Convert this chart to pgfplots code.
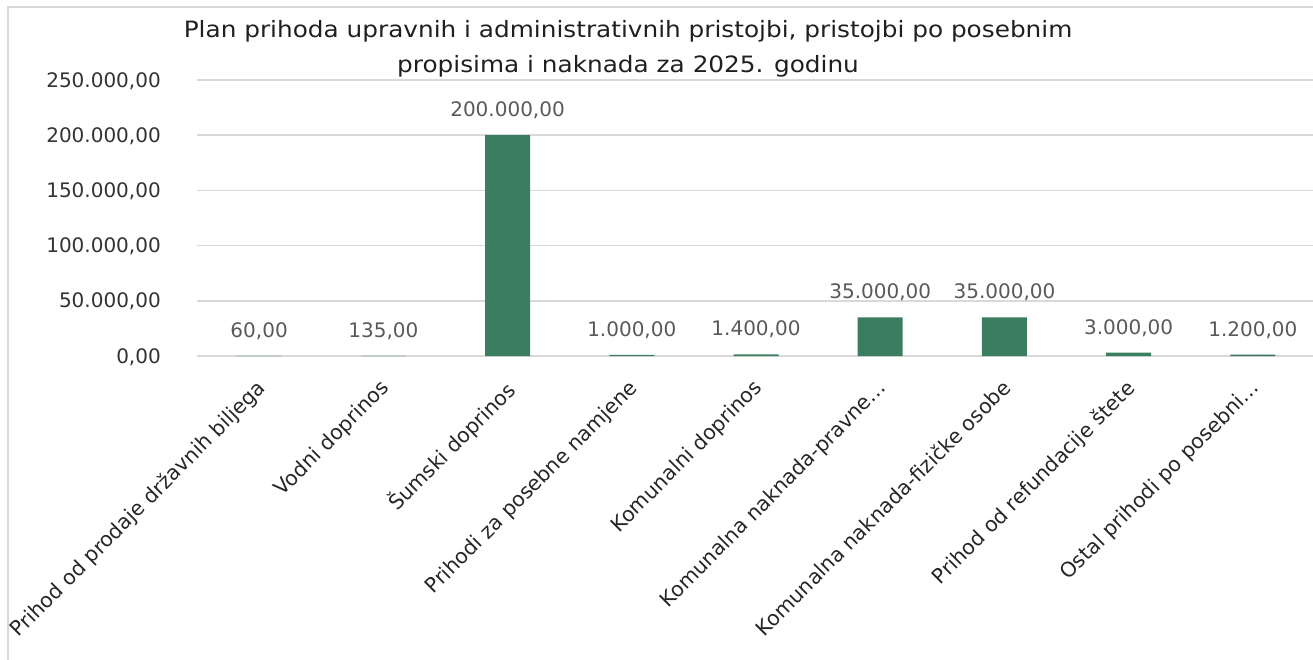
\documentclass[border=0pt]{standalone}
\usepackage{fontspec}
\setmainfont{DejaVu Sans}
\newfontfamily\titlefont[FakeStretch=1.1]{DejaVu Sans}
\usepackage{pgfplots}
\pgfplotsset{compat=1.18}
\definecolor{gridc}{HTML}{D9D9D9}
\definecolor{titlec}{HTML}{1F1F1F}
\definecolor{tickc}{HTML}{333333}
\definecolor{catc}{HTML}{262626}
\definecolor{labc}{HTML}{595959}
\definecolor{barL}{HTML}{4E9676}
\definecolor{barM}{HTML}{3B7E5F}
\definecolor{barD}{HTML}{27563F}
\definecolor{barE}{HTML}{0F2A1C}
\pgfdeclarehorizontalshading{barshade}{100bp}{color(0bp)=(barL); color(12bp)=(barM); color(70bp)=(barM); color(88bp)=(barD); color(100bp)=(barE)}
\begin{document}
\begin{tikzpicture}[x=1pt,y=1pt]
\useasboundingbox (0,0) rectangle (1313,659);
\draw[gridc, line width=2pt] (8,-5) -- (8,652) -- (1320,652);
\node[anchor=base, text=titlec, inner sep=0pt, font=\titlefont\fontsize{22.5pt}{26pt}\selectfont] at (628,621) {Plan prihoda upravnih i administrativnih pristojbi, pristojbi po posebnim};
\node[anchor=base, text=titlec, inner sep=0pt, font=\titlefont\fontsize{22.5pt}{26pt}\selectfont] at (628,586) {propisima i naknada za 2025. godinu};
\begin{axis}[
  at={(197pt,303pt)}, anchor=south west,
  scale only axis, width=1118pt, height=276pt,
  xmin=-0.5, xmax=8.5, ymin=0, ymax=250000,
  clip=false,
  axis line style={draw=none},
  major tick length=0pt,
  ymajorgrids, grid style={gridc, line width=1.6pt},
  ytick={0,50000,100000,150000,200000,250000},
  scaled y ticks=false,
  /pgf/number format/fixed,
  /pgf/number format/fixed zerofill,
  /pgf/number format/precision=2,
  /pgf/number format/use comma,
  /pgf/number format/1000 sep={.},
  /pgf/number format/assume math mode=true,
  yticklabel style={anchor=base east, inner sep=0pt, xshift=-36pt, yshift=-7pt, text=tickc, font=\fontsize{20pt}{24pt}\selectfont},
  xtick={0,1,2,3,4,5,6,7,8},
  xticklabels={{Prihod od prodaje državnih biljega},{Vodni doprinos},{Šumski doprinos},{Prihodi za posebne namjene},{Komunalni doprinos},{Komunalna naknada-pravne…},{Komunalna naknada-fizičke osobe},{Prihod od refundacije štete},{Ostal prihodi po posebni…}},
  xticklabel style={anchor=north east, inner sep=0pt, xshift=-4pt, yshift=-22pt, rotate=45, text=catc, font=\fontsize{20.5pt}{24pt}\selectfont},
]
\addplot[ybar, bar width=45pt, bar shift=0pt, shading=barshade, draw=none,
  nodes near coords,
  nodes near coords style={anchor=base, inner sep=0pt, yshift=18.5pt, text=labc, font=\fontsize{20pt}{24pt}\selectfont}]
  coordinates {(0,60) (1,135) (2,200000) (3,1000) (4,1400) (5,35000) (6,35000) (7,3000) (8,1200)};
\end{axis}
\end{tikzpicture}
\end{document}
